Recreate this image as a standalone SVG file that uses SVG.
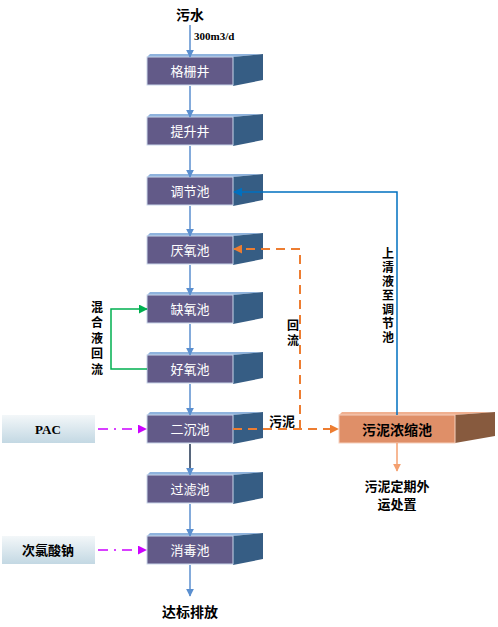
<svg xmlns="http://www.w3.org/2000/svg" width="498" height="627" viewBox="0 0 498 627">
<style>
.front{fill:#625a88;stroke:#c9d6ea;stroke-width:1}
.side{fill:#365d84}
.top{fill:#8fb3dd}
.bt{font-family:"Noto Sans CJK SC","Noto Sans",sans-serif;font-size:13px;fill:#ffffff;text-anchor:middle}
.lbl{font-family:"Noto Sans CJK SC","Noto Sans",sans-serif;font-size:13px;font-weight:bold;fill:#000;text-anchor:middle}
.vl{font-family:"Noto Sans CJK SC","Noto Sans",sans-serif;font-size:12px;font-weight:bold;fill:#000;writing-mode:vertical-rl;text-orientation:upright}
.flow{stroke:#5b8fcf;stroke-width:1.5;fill:none}
</style>
<defs>
<marker id="ab" viewBox="0 0 10 10" refX="9" refY="5" markerWidth="8" markerHeight="8" markerUnits="userSpaceOnUse" orient="auto"><path d="M0,0 L10,5 L0,10 z" fill="#5b8fcf"/></marker>
<marker id="ao" viewBox="0 0 10 10" refX="9" refY="5" markerWidth="9" markerHeight="9" markerUnits="userSpaceOnUse" orient="auto"><path d="M0,0 L10,5 L0,10 z" fill="#ed7d31"/></marker>
<marker id="ao2" viewBox="0 0 10 10" refX="9" refY="5" markerWidth="8" markerHeight="8" markerUnits="userSpaceOnUse" orient="auto"><path d="M0,0 L10,5 L0,10 z" fill="#f4a070"/></marker>
<marker id="ag" viewBox="0 0 10 10" refX="9" refY="5" markerWidth="9" markerHeight="9" markerUnits="userSpaceOnUse" orient="auto"><path d="M0,0 L10,5 L0,10 z" fill="#00b050"/></marker>
<marker id="am" viewBox="0 0 10 10" refX="9" refY="5" markerWidth="9" markerHeight="9" markerUnits="userSpaceOnUse" orient="auto"><path d="M0,0 L10,5 L0,10 z" fill="#cc00ff"/></marker>
<marker id="abl" viewBox="0 0 10 10" refX="9" refY="5" markerWidth="9" markerHeight="9" markerUnits="userSpaceOnUse" orient="auto"><path d="M0,0 L10,5 L0,10 z" fill="#0070c0"/></marker>
<linearGradient id="gb" x1="0" y1="0" x2="0" y2="1"><stop offset="0" stop-color="#f3f7f9"/><stop offset="1" stop-color="#c3d8e3"/></linearGradient>
<g id="tank">
<polygon class="top" points="147,57 150,54 263,54 233,57"/>
<polygon class="side" points="233,57 263,54 263,80 233,86"/>
<rect class="front" x="147" y="57" width="86" height="28"/>
</g>
</defs>

<g id="n1"><use href="#tank"/><text class="bt" x="190" y="76">格栅井</text></g>
<g id="n2"><use href="#tank" y="60"/><text class="bt" x="190" y="136">提升井</text></g>
<g id="n3"><use href="#tank" y="120"/><text class="bt" x="190" y="196">调节池</text></g>
<g id="n4"><use href="#tank" y="179"/><text class="bt" x="190" y="255">厌氧池</text></g>
<g id="n5"><use href="#tank" y="238"/><text class="bt" x="190" y="314">缺氧池</text></g>
<g id="n6"><use href="#tank" y="298"/><text class="bt" x="190" y="374">好氧池</text></g>
<g id="n7"><use href="#tank" y="358"/><text class="bt" x="190" y="434">二沉池</text></g>
<g id="n8"><use href="#tank" y="418"/><text class="bt" x="190" y="494">过滤池</text></g>
<g id="n9"><use href="#tank" y="479"/><text class="bt" x="190" y="555">消毒池</text></g>

<g id="n10">
<polygon points="339,415 342,412 495,412 455,415" fill="#f0b090"/>
<polygon points="455,415 495,412 495,436 455,443" fill="#875a3e"/>
<rect x="339" y="415" width="116" height="28" fill="#df8f68" stroke="#f6d0bd" stroke-width="1"/>
<text x="397" y="435" font-family="'Noto Sans CJK SC',sans-serif" font-size="14" font-weight="bold" fill="#000" text-anchor="middle">污泥浓缩池</text>
</g>

<g id="n11">
<rect x="2" y="415" width="93" height="28" fill="url(#gb)"/>
<text x="48" y="434" font-family="'Liberation Serif',serif" font-size="13" font-weight="bold" fill="#000" text-anchor="middle">PAC</text>
</g>
<g id="n12">
<rect x="2" y="536" width="93" height="28" fill="url(#gb)"/>
<text x="48" y="555" class="lbl">次氯酸钠</text>
</g>

<g id="connectors">
<line class="flow" x1="190" y1="25" x2="190" y2="57" marker-end="url(#ab)"/>
<line class="flow" x1="190" y1="86" x2="190" y2="117" marker-end="url(#ab)"/>
<line class="flow" x1="190" y1="146" x2="190" y2="177" marker-end="url(#ab)"/>
<line class="flow" x1="190" y1="206" x2="190" y2="236" marker-end="url(#ab)"/>
<line class="flow" x1="190" y1="265" x2="190" y2="295" marker-end="url(#ab)"/>
<line class="flow" x1="190" y1="324" x2="190" y2="355" marker-end="url(#ab)"/>
<line class="flow" x1="190" y1="384" x2="190" y2="415" marker-end="url(#ab)"/>
<line x1="190" y1="444" x2="190" y2="471" stroke="#1f3350" stroke-width="1.5"/>
<line class="flow" x1="190" y1="468" x2="190" y2="475" marker-end="url(#ab)"/>
<line class="flow" x1="190" y1="504" x2="190" y2="536" marker-end="url(#ab)"/>
<line class="flow" x1="190" y1="565" x2="190" y2="596" marker-end="url(#ab)"/>
<polyline points="147,369 111,369 111,309 147,309" fill="none" stroke="#00b050" stroke-width="1.5" marker-end="url(#ag)"/>
<line x1="98" y1="429" x2="146" y2="429" stroke="#cc00ff" stroke-width="1.5" stroke-dasharray="10,6,2,6" marker-end="url(#am)"/>
<line x1="98" y1="550" x2="146" y2="550" stroke="#cc00ff" stroke-width="1.5" stroke-dasharray="10,6,2,6" marker-end="url(#am)"/>
<line x1="233" y1="429" x2="338" y2="429" stroke="#ed7d31" stroke-width="2" stroke-dasharray="9,6" marker-end="url(#ao)"/>
<polyline points="300,429 300,249 234,249" fill="none" stroke="#ed7d31" stroke-width="2" stroke-dasharray="9,6" marker-end="url(#ao)"/>
<polyline points="397,415 397,192 234,192" fill="none" stroke="#0070c0" stroke-width="1.5" marker-end="url(#abl)"/>
<line x1="397" y1="443" x2="397" y2="471" stroke="#f4a070" stroke-width="1.5" marker-end="url(#ao2)"/>
</g>

<g id="labels">
<text x="190" y="20" font-family="'Noto Sans CJK SC',sans-serif" font-size="14" font-weight="bold" fill="#000" text-anchor="middle">污水</text>
<text x="194" y="40" font-family="'Liberation Serif',serif" font-size="11" font-weight="bold" fill="#000">300m3/d</text>
<text x="190" y="617" font-family="'Noto Sans CJK SC',sans-serif" font-size="14" font-weight="bold" fill="#000" text-anchor="middle">达标排放</text>
<text x="397" y="491" class="lbl" font-size="12">污泥定期外</text>
<text x="397" y="509" class="lbl" font-size="12">运处置</text>
<text x="282" y="426" class="lbl">污泥</text>
<text x="293" y="319" class="vl" letter-spacing="3">回流</text>
<text x="97" y="301" class="vl" letter-spacing="3.5">混合液回流</text>
<text x="388" y="247" class="vl" letter-spacing="2">上清液至调节池</text>
</g>
</svg>
